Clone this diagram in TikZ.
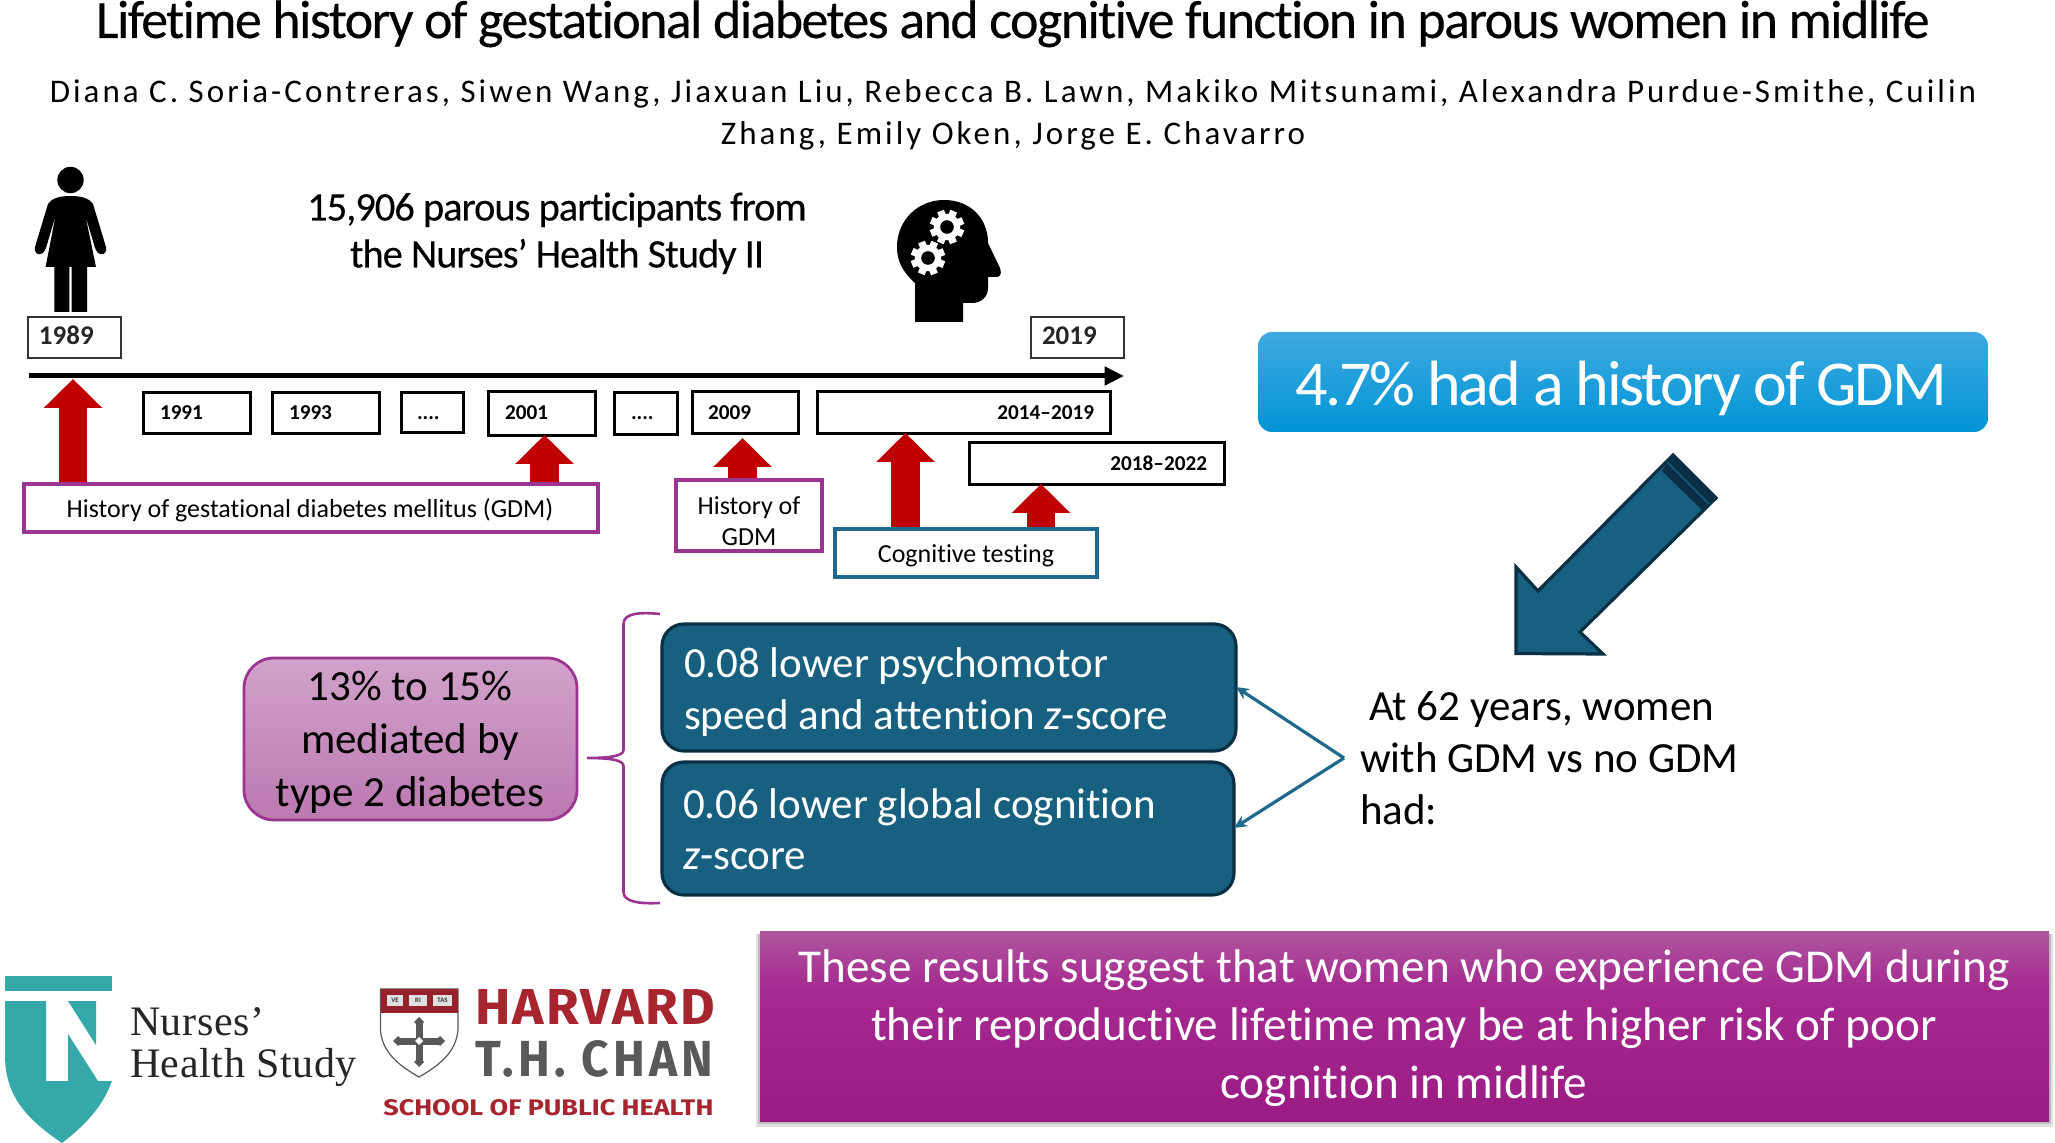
\documentclass[tikz,border=0pt]{standalone}
\usepackage{fontspec}
\usepackage{graphicx}
\setmainfont[Ligatures=NoCommon]{Carlito}
\newfontfamily\serifl[LetterSpace=1.5]{Liberation Serif}
\newfontfamily\logof{Fira Sans}
\newfontfamily\logog[LetterSpace=4]{Fira Sans}
\newfontfamily\logoh[LetterSpace=9]{Fira Sans}
\newfontfamily\tightf[LetterSpace=-3,FakeBold=0.25,Ligatures=NoCommon]{Carlito}
\newfontfamily\tightg[LetterSpace=-2.65,FakeBold=0.2,Ligatures=NoCommon]{Carlito}
\newfontfamily\tighth[LetterSpace=-3.5,Ligatures=NoCommon]{Carlito}
\newfontfamily\spacedf[LetterSpace=9.2,Ligatures=NoCommon]{Carlito}
\usetikzlibrary{arrows.meta,fit,calc}
\definecolor{redar}{HTML}{C00000}
\definecolor{purp}{HTML}{9C3591}
\definecolor{tealb}{HTML}{1F6A8C}
\definecolor{bluef}{HTML}{17607F}
\definecolor{bluel}{HTML}{0B2F44}
\definecolor{nhst}{HTML}{35A9A9}
\definecolor{hred}{HTML}{A6252F}
\definecolor{hgray}{HTML}{58595B}
\definecolor{gdmtop}{HTML}{3FA9E0}
\definecolor{gdmbot}{HTML}{0095D5}
\definecolor{medtop}{HTML}{D2A2CB}
\definecolor{medbot}{HTML}{BB79B0}
\definecolor{cona}{HTML}{AE569E}
\definecolor{conb}{HTML}{A52A90}
\definecolor{conc}{HTML}{9A1B84}
\pgfdeclareverticalshading{conclsh}{100bp}{color(0bp)=(conc); color(25bp)=(conc); color(60bp)=(conb); color(75bp)=(cona); color(100bp)=(cona)}
\tikzset{
  txt/.style={inner sep=0pt,outer sep=0pt,anchor=base},
  ltxt/.style={inner sep=0pt,outer sep=0pt,anchor=base west},
  rtxt/.style={inner sep=0pt,outer sep=0pt,anchor=base east},
  yearbold/.style={font=\bfseries\fontsize{10.6}{12}\selectfont},
  yearbig/.style={font=\bfseries\fontsize{13.5}{15}\selectfont,text=black!85},
  thinbox/.style={draw=black!80,line width=.8pt,fill=white,inner sep=0pt,outer sep=0pt},
  thickbox/.style={draw=black,line width=1.5pt,fill=white,inner sep=0pt,outer sep=0pt},
  purpbox/.style={draw=purp,line width=1.6pt,fill=white,inner sep=0pt,outer sep=0pt},
  tealbox/.style={draw=tealb,line width=1.6pt,fill=white,inner sep=0pt,outer sep=0pt},
  redarrow/.style={redar,line width=14.2pt,-{Triangle[length=14.5pt,width=28.4pt]}},
  bluebox/.style={draw=bluel,line width=1.6pt,fill=bluef,rounded corners=11pt,inner sep=0pt,outer sep=0pt},
  bigt/.style={font=\fontsize{21.5}{25}\selectfont},
  labt/.style={font=\fontsize{13}{15}\selectfont},
  thinarrow/.style={draw=tealb,line width=1.6pt,-{Stealth[length=6.5pt,width=6pt]}},
}
\begin{document}
\begin{tikzpicture}[x=.5pt,y=-.5pt]
\useasboundingbox[fill=white] (0,0) rectangle (2055,1143);

% title and authors
\node[txt,font=\tightf\fontsize{27}{30}\selectfont] (title) at (1013,38) {Lifetime history of gestational diabetes and cognitive function in parous women in midlife};
\node[txt,font=\spacedf\fontsize{16.5}{20}\selectfont] (auth1) at (1013,102.5) {Diana C. Soria-Contreras, Siwen Wang, Jiaxuan Liu, Rebecca B. Lawn, Makiko Mitsunami, Alexandra Purdue-Smithe, Cuilin};
\node[txt,font=\spacedf\fontsize{16.5}{20}\selectfont] (auth2) at (1013,144.5) {Zhang, Emily Oken, Jorge E. Chavarro};

% woman
\fill[black] (70.5,180) circle[radius=6.6pt];
\fill[black,line join=round] (70.5,196) .. controls (60,196) and (52,198) .. (48,204) -- (35,247)
  .. controls (34,252) and (37,255) .. (40,254) .. controls (43,254) and (45,251) .. (46,248)
  -- (55.5,216) -- (45.6,267) -- (54.3,267) -- (54.3,312) -- (69.3,312) -- (69.3,267) -- (71.7,267)
  -- (71.7,312) -- (87,312) -- (87,267) -- (96,267) -- (85.5,216) -- (95,248)
  .. controls (96,251) and (98,254) .. (101,254) .. controls (104,255) and (107,252) .. (106,247)
  -- (93,204) .. controls (89,198) and (81,196) .. (70.5,196) -- cycle;

% head with gears
\fill[black] (915,322) -- (915,283) .. controls (903,272) and (897,262) .. (897,247)
  .. controls (897,220) and (918,200) .. (944,200) .. controls (970,200) and (988,218) .. (988,243)
  -- (1000,268) .. controls (1002,275) and (1000,277) .. (996,277) -- (988,277) -- (988,288)
  .. controls (988,298) and (980,303) .. (972,303) -- (963,303) -- (963,322) -- cycle;
\foreach \cx/\cy in {947/227,928/258}{
  \fill[white] (\cx,\cy) circle[radius=6.6pt];
  \foreach \a in {0,45,...,315}{
    \fill[white,shift={(\cx,\cy)},rotate=\a+22] (-1.8pt,0pt) rectangle (1.8pt,8.6pt);
  }
  \fill[black] (\cx,\cy) circle[radius=3.4pt];
}

% participants text
\node[txt,font=\tightg\fontsize{20.3}{24}\selectfont] (part1) at (557,220.5) {15,906 parous participants from};
\node[txt,font=\tightg\fontsize{20.3}{24}\selectfont] (part2) at (557,267.5) {the Nurses’ Health Study II};

% timeline
\node[thinbox,fit={(28,317) (121,358)}] (b1989) {};
\node[ltxt,yearbig] (y1989) at (39,345) {1989};
\node[thinbox,fit={(1031,317) (1124,358)}] (b2019) {};
\node[ltxt,yearbig] (y2019) at (1042,345) {2019};
\coordinate (tls) at (29,376);
\coordinate (tle) at (1124,376);
\draw[line width=2.5pt,-{Triangle[length=9.7pt,width=9pt]}] (tls) -- (tle);

\node[thickbox,fit={(143,393) (250,434)}] (b1991) {};
\node[ltxt,yearbold] (y1991) at (160,420) {1991};
\node[thickbox,fit={(272,393) (379,434)}] (b1993) {};
\node[ltxt,yearbold] (y1993) at (289,420) {1993};
\node[thickbox,fit={(401,393) (463,433)}] (bd1) {};
\node[ltxt,yearbold] (yd1) at (417,420) {....};
\node[thickbox,fit={(488,392) (595,435.5)}] (b2001) {};
\node[ltxt,yearbold] (y2001) at (505,420) {2001};
\node[thickbox,fit={(614,393) (677,435)}] (bd2) {};
\node[ltxt,yearbold] (yd2) at (631,420) {....};
\node[thickbox,fit={(692,392) (798,434)}] (b2009) {};
\node[ltxt,yearbold] (y2009) at (708,420) {2009};
\node[thickbox,fit={(817,392) (1110,434)}] (b2014) {};
\node[rtxt,yearbold] (y2014) at (1094,420) {2014–2019};
\node[thickbox,fit={(969,443) (1224,484.5)}] (b2018) {};
\node[rtxt,yearbold] (y2018) at (1207,471) {2018–2022};

% red arrows
\coordinate (r1s) at (73,484);   \coordinate (r1t) at (73,379);
\coordinate (r2s) at (544.5,484);\coordinate (r2t) at (544.5,435);
\coordinate (r3s) at (742.5,481);\coordinate (r3t) at (742.5,438);
\coordinate (r4s) at (905.5,529);\coordinate (r4t) at (905.5,433);
\coordinate (r5s) at (1041,529); \coordinate (r5t) at (1041,484);
\draw[redarrow] (r1s) -- (r1t);
\draw[redarrow] (r2s) -- (r2t);
\draw[redarrow] (r3s) -- (r3t);
\draw[redarrow] (r4s) -- (r4t);
\draw[redarrow] (r5s) -- (r5t);

% labels under the timeline
\node[purpbox,fit={(24,484) (598,532)}] (hist) {};
\node[txt,labt] (histt) at (310,518) {History of gestational diabetes mellitus (GDM)};
\node[purpbox,fit={(676,480) (822,551)}] (hist2) {};
\node[txt,labt] (hist2a) at (749,514.5) {History of};
\node[txt,labt] (hist2b) at (749,545.5) {GDM};
\node[tealbox,fit={(835,529) (1097,577)}] (cog) {};
\node[txt,labt] (cogt) at (966,563) {Cognitive testing};

% 4.7 box
\node[rounded corners=7pt,top color=gdmtop,bottom color=gdmbot,fit={(1258,332) (1988,432)},inner sep=0pt] (gdm) {};
\node[txt,white,font=\tighth\fontsize{32}{36}\selectfont] (gdmt) at (1621,405.5) {4.7\% had a history of GDM};

% big arrow
\fill[bluef,draw=bluel,line width=1.6pt,line join=miter] (1673,455) -- (1538,591) -- (1516,567) -- (1516,653.5) -- (1603,654) -- (1580,632) -- (1716,498) -- cycle;
\fill[bluel] (1673,455) -- (1716,498) -- (1703,511) -- (1662,471) -- cycle;
\draw[bluef,line width=.7pt] (1667,462) -- (1709,504);

% at 62 text
\node[ltxt,bigt] (at1) at (1369,720) {At 62 years, women};
\node[ltxt,bigt] (at2) at (1360,772) {with GDM vs no GDM};
\node[ltxt,bigt] (at3) at (1360,824) {had:};

% result boxes
\node[bluebox,fit={(662,624) (1236,751)}] (res1) {};
\node[ltxt,bigt,white] (res1a) at (684,677.5) {0.08 lower psychomotor};
\node[ltxt,bigt,white] (res1b) at (684,729.5) {speed and attention \textit{z}-score};
\node[bluebox,fit={(662,762) (1234,895)}] (res2) {};
\node[ltxt,bigt,white] (res2a) at (683,818) {0.06 lower global cognition};
\node[ltxt,bigt,white] (res2b) at (683,869) {\textit{z}-score};

% chevron connectors
\coordinate (chev) at (1344,758);
\coordinate (chev1) at (1236,687);
\coordinate (chev2) at (1234,828);
\draw[thinarrow] (chev) -- (chev1);
\draw[thinarrow] (chev) -- (chev2);

% brace
\draw[purp,line width=1.3pt] (660,614) .. controls (640,612) and (623.5,613) .. (623.5,624) -- (623.5,750)
  .. controls (623.5,756) and (610,758) .. (587,758) .. controls (610,758) and (623.5,760) .. (623.5,766)
  -- (623.5,892) .. controls (623.5,902) and (640,904) .. (660,903);

% mediation box
\node[draw=purp,line width=1.4pt,rounded corners=15pt,top color=medtop,bottom color=medbot,fit={(244,658) (577,820)},inner sep=0pt] (med) {};
\node[txt,bigt] (med1) at (410,701) {13\% to 15\%};
\node[txt,bigt] (med2) at (410,754) {mediated by};
\node[txt,bigt] (med3) at (410,806) {type 2 diabetes};

% conclusion box
\fill[black,opacity=.12] (756,934) rectangle (2053,1127);
\fill[black,opacity=.15] (758,934) rectangle (2051,1124);
\node[shading=conclsh,fit={(760,931) (2049,1121)},inner sep=0pt] (concl) {};
\node[txt,white,font=\fontsize{23.6}{28}\selectfont] (c1) at (1404,982.5) {These results suggest that women who experience GDM during};
\node[txt,white,font=\fontsize{23.6}{28}\selectfont] (c2) at (1404,1040.5) {their reproductive lifetime may be at higher risk of poor};
\node[txt,white,font=\fontsize{23.6}{28}\selectfont] (c3) at (1404,1098.5) {cognition in midlife};

% Nurses logo
\fill[nhst] (5,976) -- (112,976) -- (112,991) -- (5,991) -- cycle;
\fill[nhst] (5,1001) -- (46,1001) -- (46,1081) -- (68,1081) -- (68,1034) -- (98,1081) -- (112,1081)
  .. controls (102,1108) and (85,1125) .. (62,1143) .. controls (25,1118) and (5,1095) .. (5,1055) -- cycle;
\fill[nhst] (68,1001) -- (96,1001) -- (96,1045) -- cycle;
\node[ltxt,font=\serifl\fontsize{21}{24}\selectfont,text=black!85] (nhs1) at (130,1035) {Nurses’};
\node[ltxt,font=\serifl\fontsize{21}{24}\selectfont,text=black!85] (nhs2) at (130,1077) {Health Study};

% Harvard shield
\fill[white,draw=hgray,line width=.6pt] (380.5,989) -- (458,989) -- (458,1030) .. controls (456,1052) and (440,1065) .. (419,1077) .. controls (398,1065) and (382,1052) .. (380.5,1030) -- cycle;
\fill[hred!90!black] (380.5,989) rectangle (458,1013);
\fill[white!88!black] (387,995) rectangle (403,1006);
\fill[white!88!black] (409,995) rectangle (427,1006);
\fill[white!88!black] (433,995) rectangle (452,1006);
\node[inner sep=0pt,font=\bfseries\fontsize{3.4}{4}\selectfont,text=black!80] (ve) at (395,1000.5) {VE};
\node[inner sep=0pt,font=\bfseries\fontsize{3.4}{4}\selectfont,text=black!80] (ri) at (418,1000.5) {RI};
\node[inner sep=0pt,font=\bfseries\fontsize{3.4}{4}\selectfont,text=black!80] (tas) at (442.5,1000.5) {TAS};
\fill[hgray] (415.5,1023) rectangle (422.5,1061);
\fill[hgray] (399,1037.5) rectangle (439,1044.5);
\foreach \fx/\fy in {419/1022,419/1062,398/1041,440/1041}{
  \fill[hgray] (\fx-5,\fy) -- (\fx,\fy-5) -- (\fx+5,\fy) -- (\fx,\fy+5) -- cycle;
}
\fill[white] (415,1041) -- (419,1037) -- (423,1041) -- (419,1045) -- cycle;

% Harvard wordmark
\node[inner sep=0pt,anchor=south west] (hv1) at (475,1025) {\resizebox{120pt}{17.5pt}{\color{hred}\logog\bfseries HARVARD}};
\node[inner sep=0pt,anchor=south west] (hv2) at (475,1078) {\resizebox{119pt}{18pt}{\color{hgray}\logoh\bfseries T.H. CHAN}};
\node[inner sep=0pt,anchor=south west] (hv3) at (383,1116) {\resizebox{165pt}{8pt}{\color{hred}\logof\bfseries SCHOOL OF PUBLIC HEALTH}};
\end{tikzpicture}
\end{document}
